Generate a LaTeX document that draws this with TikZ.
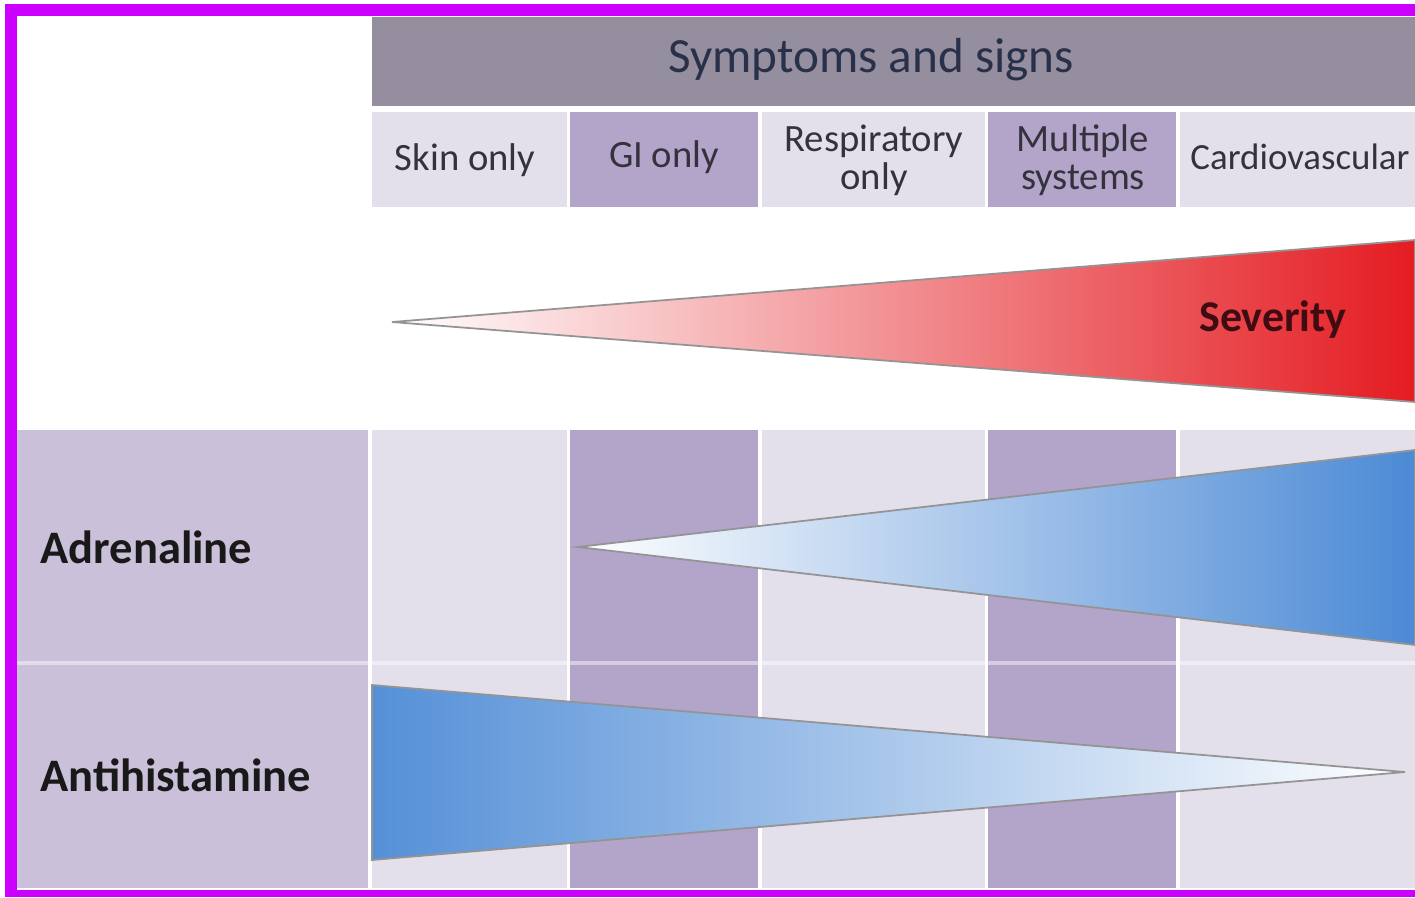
\documentclass[tikz,border=0pt]{standalone}
\usepackage{fontspec}
\setmainfont{Carlito}
\definecolor{frame}{HTML}{CC00FF}
\definecolor{hdrgray}{HTML}{958E9F}
\definecolor{hdrtxt}{HTML}{29304A}
\definecolor{lite}{HTML}{E4E0EB}
\definecolor{dark}{HTML}{B3A4CA}
\definecolor{side}{HTML}{CAC0D9}
\definecolor{coltxt}{HTML}{34323C}
\definecolor{sevred}{HTML}{E41C22}
\definecolor{sevtxt}{HTML}{3E0C12}
\definecolor{drugblue}{HTML}{4C8AD5}
\def\bandtop{430}
\def\bandbot{888}

\begin{document}
\begin{tikzpicture}[x=0.02cm, y=-0.02cm, font=\fontsize{22}{21.5}\selectfont,
  colhead/.style={text=coltxt, align=center, inner sep=0},
  rowlbl/.style={font=\fontsize{26.5}{30}\selectfont\bfseries, text=black!90, anchor=west, inner sep=0},
  wedge/.style={draw=black!42, line width=1pt}]
  \useasboundingbox (0,0) rectangle (1415,897);

  % ---------- frame ----------
  \fill[frame] (5,4) rectangle (1415,897);
  \fill[white] (17,16) rectangle (1415,890);

  % ---------- header ----------
  \fill[hdrgray] (372,17) rectangle (1415,106);
  \node[font=\fontsize{28}{30}\selectfont, text=hdrtxt, inner sep=0] (symp) at (871,60) {Symptoms and signs};

  % ---------- column bands ----------
  \foreach \xa/\xb/\c in {372/567/lite, 570/758/dark, 762/985/lite, 988/1176/dark, 1180/1415/lite}{
    \fill[\c] (\xa,112) rectangle (\xb,207);
    \fill[\c] (\xa,\bandtop) rectangle (\xb,\bandbot);
  }
  \fill[side] (17,\bandtop) rectangle (368,\bandbot);
  \draw[white, opacity=0.45, line width=2.5pt] (17,663) -- (1415,663);

  \node[colhead] (skin) at (465,160) {Skin only};
  \node[colhead] (gi)   at (664,157) {GI only};
  \node[colhead] (resp) at (874,160) {Respiratory\\only};
  \node[colhead] (mult) at (1083,160) {Multiple\\systems};
  \node[colhead, font=\fontsize{21}{21.5}\selectfont] (card) at (1300,157) {Cardiovascular};

  % ---------- severity wedge ----------
  \path[wedge, left color=white, middle color=sevred!30!white, right color=sevred]
    (392,322) -- (1415,240) -- (1415,402) -- cycle;
  \node[font=\fontsize{25}{28}\selectfont\bfseries, text=sevtxt, inner sep=0] (sev) at (1273,320) {Severity};

  % ---------- treatment wedges ----------
  \path[wedge, left color=white, middle color=drugblue!40!white, right color=drugblue]
    (578,547) -- (1415,450) -- (1415,645) -- cycle;
  \path[wedge, left color=drugblue!95!white, middle color=drugblue!32!white, right color=white]
    (372,685) -- (1405,772) -- (372,860) -- cycle;

  \node[rowlbl] (adr)  at (40,547) {Adrenaline};
  \node[rowlbl] (anti) at (40,775) {Antihistamine};

\end{tikzpicture}
\end{document}
